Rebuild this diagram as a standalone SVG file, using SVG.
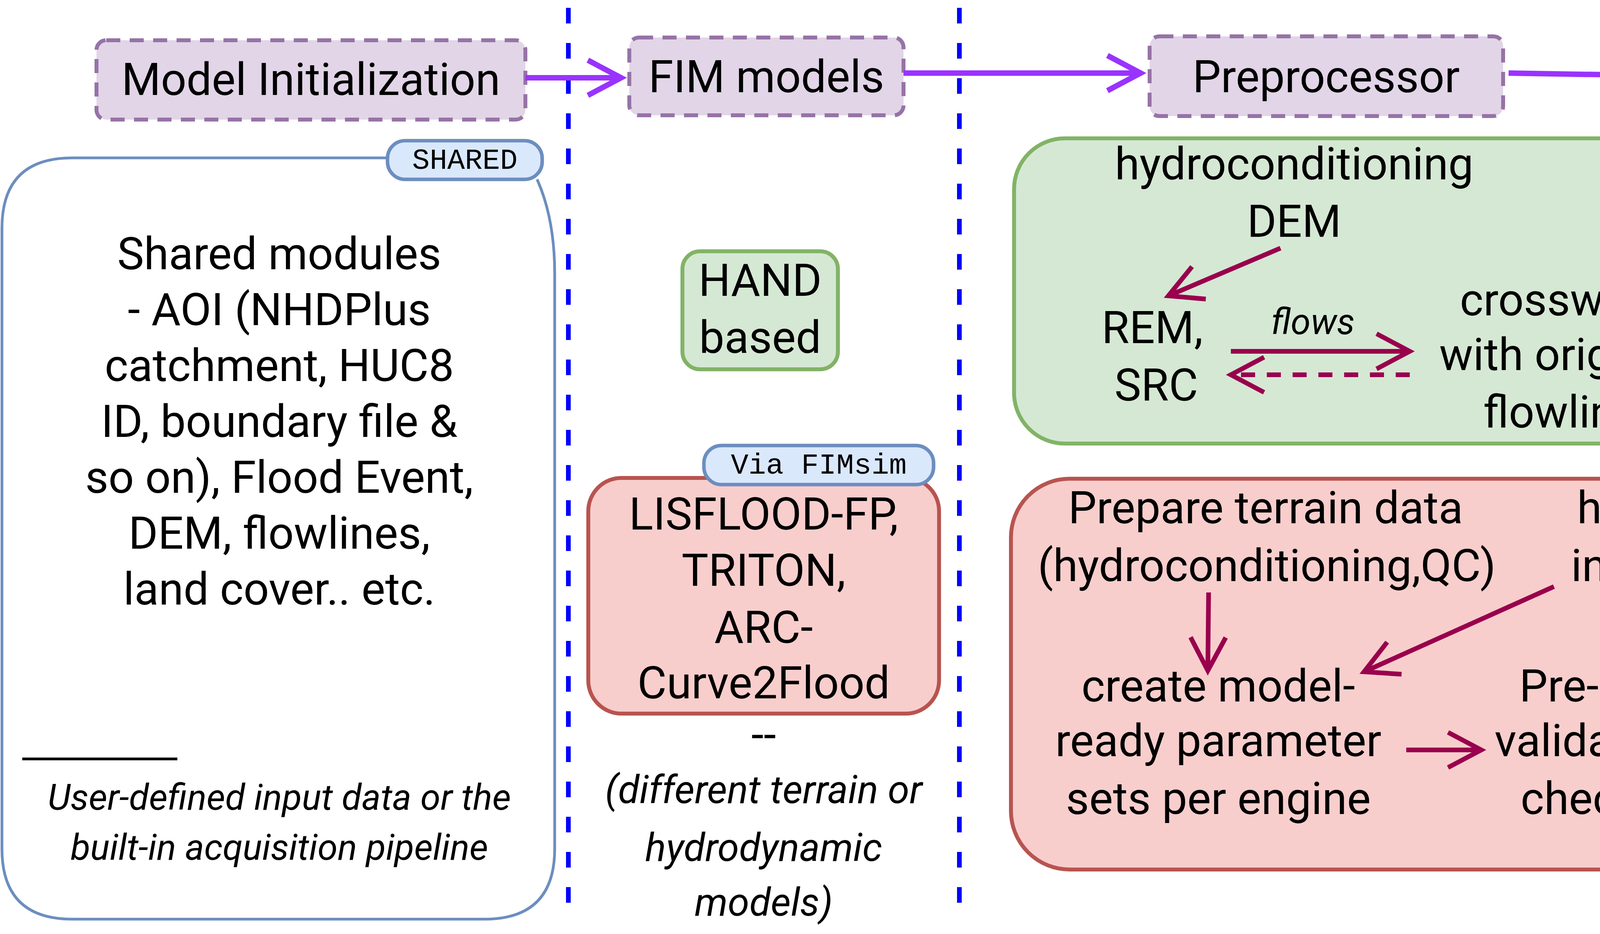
<svg xmlns="http://www.w3.org/2000/svg" width="7410" height="2390" viewBox="0 0 7410 2390">
<style>
text{font-family:Roboto,"Liberation Sans",sans-serif;font-size:115px;fill:#000;text-anchor:middle}
.it{font-style:italic;font-size:100px}
.sm{font-size:92px}
.mono{font-family:"Liberation Mono","DejaVu Sans Mono",monospace;font-size:75px}
.stage{fill:#e1d5e7;stroke:#9673a6;stroke-width:10;stroke-dasharray:36 24}
.green{fill:#d5e8d4;stroke:#82b366;stroke-width:10}
.red{fill:#f8cecc;stroke:#b85450;stroke-width:10}
.badge{fill:#dae8fc;stroke:#6c8ebf;stroke-width:9}
.sep{stroke:#0000ff;stroke-width:12;stroke-dasharray:40 50;fill:none}
.pa{stroke:#9933ff;stroke-width:14;fill:none;marker-end:url(#hp)}
.ma{stroke:#99004d;stroke-width:12;fill:none;marker-end:url(#hm)}
.md{stroke-dasharray:36 30}
</style>
<defs>
<marker id="hp" markerUnits="userSpaceOnUse" markerWidth="200" markerHeight="200" refX="0" refY="0" viewBox="-100 -100 200 200" orient="auto" overflow="visible"><path d="M-85,-45 L0,0 L-85,45" fill="none" stroke="#9933ff" stroke-width="14"/></marker>
<marker id="hm" markerUnits="userSpaceOnUse" markerWidth="200" markerHeight="200" refX="0" refY="0" viewBox="-100 -100 200 200" orient="auto" overflow="visible"><path d="M-85,-45 L0,0 L-85,45" fill="none" stroke="#99004d" stroke-width="12"/></marker>
</defs>
<rect width="7410" height="2390" fill="#fff"/>
<g id="separators">
<line class="sep" x1="1455" y1="20" x2="1455" y2="2360"/>
<line class="sep" x1="2456" y1="20" x2="2456" y2="2360"/>
<line class="sep" x1="4466" y1="20" x2="4466" y2="2360"/>
<line class="sep" x1="5594" y1="20" x2="5594" y2="2360"/>
</g>
<g id="model-init"><rect class="stage" x="247" y="103" width="1098" height="203" rx="25"/><text x="796" y="243">Model Initialization</text></g>
<g id="fim-models"><rect class="stage" x="1611" y="96" width="702" height="199" rx="25"/><text x="1962" y="236">FIM models</text></g>
<g id="preprocessor"><rect class="stage" x="2943" y="93" width="905" height="204" rx="25"/><text x="3395" y="236">Preprocessor</text></g>
<g id="fim-generation"><rect class="stage" x="4593" y="103" width="902" height="203" rx="25"/><text x="5044" y="244">FIM generation</text></g>
<g id="fim-evaluation"><rect class="stage" x="6001" y="92" width="888" height="203" rx="25"/><text x="6445" y="234">FIM evaluation</text></g>
<g id="shared">
<path d="M185,404 H1000 M1375,459 Q1420,560 1420,700 V2172 Q1420,2352 1240,2352 H185 Q5,2352 5,2172 V584 Q5,404 185,404" fill="#fff" stroke="#6c8ebf" stroke-width="7"/>
<text x="715" y="689">Shared modules</text>
<text x="715" y="832">- AOI (NHDPlus</text>
<text x="715" y="975">catchment, HUC8</text>
<text x="715" y="1118">ID, boundary file &amp;</text>
<text x="715" y="1261">so on), Flood Event,</text>
<text x="715" y="1404">DEM, flowlines,</text>
<text x="715" y="1547">land cover.. etc.</text>
<line x1="57" y1="1942" x2="454" y2="1942" stroke="#000" stroke-width="7"/>
<text class="it" x="715" y="2072" style="font-size:93px">User-defined input data or the</text>
<text class="it" x="715" y="2200" style="font-size:93px">built-in acquisition pipeline</text>
</g>
<g id="shared-badge"><rect class="badge" x="992" y="360" width="396" height="99" rx="45"/><text class="mono" x="1190" y="432">SHARED</text></g>
<g id="hand-based"><rect class="green" x="1747" y="643" width="398" height="302" rx="45"/><text x="1946" y="757">HAND</text><text x="1946" y="903">based</text></g>
<g id="lisflood"><rect class="red" x="1506" y="1223" width="898" height="603" rx="85"/>
<text x="1955" y="1355">LISFLOOD-FP,</text><text x="1955" y="1499">TRITON,</text><text x="1955" y="1645">ARC-</text><text x="1955" y="1787">Curve2Flood</text></g>
<g id="via-fimsim"><rect class="badge" x="1802" y="1140" width="588" height="100" rx="45"/><text class="mono" x="2096" y="1212">Via FIMsim</text></g>
<g id="models-note"><text x="1955" y="1920">--</text><text class="it" x="1955" y="2055">(different terrain or</text><text class="it" x="1955" y="2203">hydrodynamic</text><text class="it" x="1955" y="2343">models)</text></g>
<g id="hand-prep"><rect class="green" x="2596" y="354" width="1799" height="781" rx="130"/>
<text x="3313" y="459">hydroconditioning</text><text x="3313" y="606">DEM</text>
<text x="2950" y="878">REM,</text><text x="2960" y="1025">SRC</text>
<text class="it sm" x="3361" y="855">flows</text>
<text x="3996" y="807">crosswalk</text><text x="3996" y="947">with original</text><text x="3996" y="1094">flowline</text></g>
<g id="sim-prep"><rect class="red" x="2588" y="1225" width="1806" height="1000" rx="150"/>
<text x="3240" y="1339">Prepare terrain data</text><text x="3243" y="1487">(hydroconditioning,QC)</text>
<text x="4180" y="1339">hydro</text><text x="4180" y="1487">inputs</text>
<text x="3119" y="1795">create model-</text><text x="3119" y="1935">ready parameter</text><text x="3119" y="2083">sets per engine</text>
<text x="4074" y="1795">Pre-run</text><text x="4074" y="1935">validation</text><text x="4074" y="2083">checks</text></g>
<g id="hand-fim"><rect class="green" x="4747" y="694" width="646" height="200" rx="30"/><text x="5070" y="834">HAND FIM</text></g>
<g id="sim-fim"><rect class="red" x="4634" y="1325" width="811" height="499" rx="100"/><text x="5039" y="1481">Simulated</text><text x="5039" y="1621">Hydrodynamic</text><text x="5039" y="1769">FIM</text></g>
<g id="fimsens"><text x="6631" y="618" style="text-anchor:start">FIMsens</text></g>
<g id="fimeval"><text x="5940" y="927" style="text-anchor:start">FIMeval</text></g>
<g id="fimbench"><text x="5927" y="1604" style="text-anchor:start">FIMbench</text></g>
<g id="connectors">
<line class="pa" x1="1345" y1="199" x2="1590" y2="199"/>
<line class="pa" x1="2313" y1="187" x2="2920" y2="187"/>
<line class="pa" x1="3862" y1="187" x2="4583" y2="199"/>
<line class="pa" x1="5495" y1="190" x2="5996" y2="190"/>
<line class="ma" x1="3278" y1="635" x2="2991" y2="757"/>
<line class="ma" x1="3151" y1="899" x2="3609" y2="899"/>
<line class="ma md" x1="3609" y1="959" x2="3151" y2="959"/>
<line class="ma" x1="3094" y1="1516" x2="3092" y2="1716"/>
<line class="ma" x1="3978" y1="1501" x2="3492" y2="1719"/>
<line class="ma" x1="3600" y1="1919" x2="3792" y2="1919"/>
<line class="ma" x1="6527" y1="591" x2="6225" y2="791"/>
<line class="ma md" x1="6303" y1="818" x2="6591" y2="623"/>
<line class="ma" x1="6119" y1="1043" x2="6117" y2="1436"/>
<line class="ma md" x1="6188" y1="1415" x2="6188" y2="1046"/>
<text class="it sm" x="6316" y="618" transform="rotate(-31 6316 585)">Generate</text>
<text class="it sm" x="6044" y="1230" transform="rotate(-90 6044 1198)">Query</text>
</g>
</svg>
